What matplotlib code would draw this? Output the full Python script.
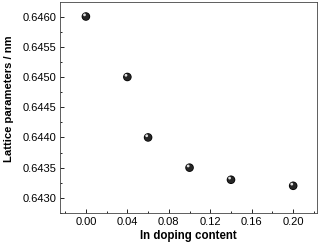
import matplotlib
matplotlib.use("Agg")
import matplotlib.pyplot as plt
import matplotlib.transforms as mtransforms
from matplotlib.ticker import MultipleLocator

plt.rcParams['font.family'] = ['Liberation Sans', 'DejaVu Sans']

x_vals = [0.00, 0.04, 0.06, 0.10, 0.14, 0.20]
y_vals = [0.6460, 0.6450, 0.6440, 0.6435, 0.6433, 0.6432]
x_ticks = [0.00, 0.04, 0.08, 0.12, 0.16, 0.20]
y_ticks = [0.6430, 0.6435, 0.6440, 0.6445, 0.6450, 0.6455, 0.6460]

fig = plt.figure(figsize=(3.21, 2.48), dpi=100)
ax = fig.add_axes([60/321, 1 - 213/248, (317-60)/321, (213-2)/248])

ax.scatter(x_vals, y_vals, s=38, color='black', zorder=3, edgecolors='none')
ax.scatter(x_vals, y_vals, s=26, color='#262626', zorder=3, edgecolors='none')
hl = mtransforms.offset_copy(ax.transData, fig=fig, x=-1.0, y=1.2, units='points')
ax.scatter(x_vals, y_vals, s=4, color='#e0e0e0', zorder=4, edgecolors='none', transform=hl)

ax.set_xlim(-0.025, 0.223)
ax.set_ylim(0.64275, 0.64624)
ax.set_xticks(x_ticks)
ax.set_xticklabels([f"{v:.2f}" for v in x_ticks])
ax.set_yticks(y_ticks)
ax.set_yticklabels([f"{v:.4f}" for v in y_ticks])
ax.xaxis.set_minor_locator(MultipleLocator(0.02))
ax.yaxis.set_minor_locator(MultipleLocator(0.00025))
ax.tick_params(which='both', direction='in', top=False, right=False, labelsize=8, width=0.6)
ax.tick_params(axis='y', pad=2.5)
ax.tick_params(axis='x', pad=3)
ax.tick_params(which='major', length=3)
ax.tick_params(which='minor', length=1.5)
for s in ax.spines.values():
    s.set_linewidth(0.6)
    s.set_color('#444444')

ax.set_xlabel('In doping content', fontsize=8.3, fontweight='bold', labelpad=2)
ax.set_ylabel('Lattice parameters / nm', fontsize=8.1, fontweight='bold')
ax.yaxis.set_label_coords(-0.18, 0.54)

fig.savefig('out.png', dpi=100)
